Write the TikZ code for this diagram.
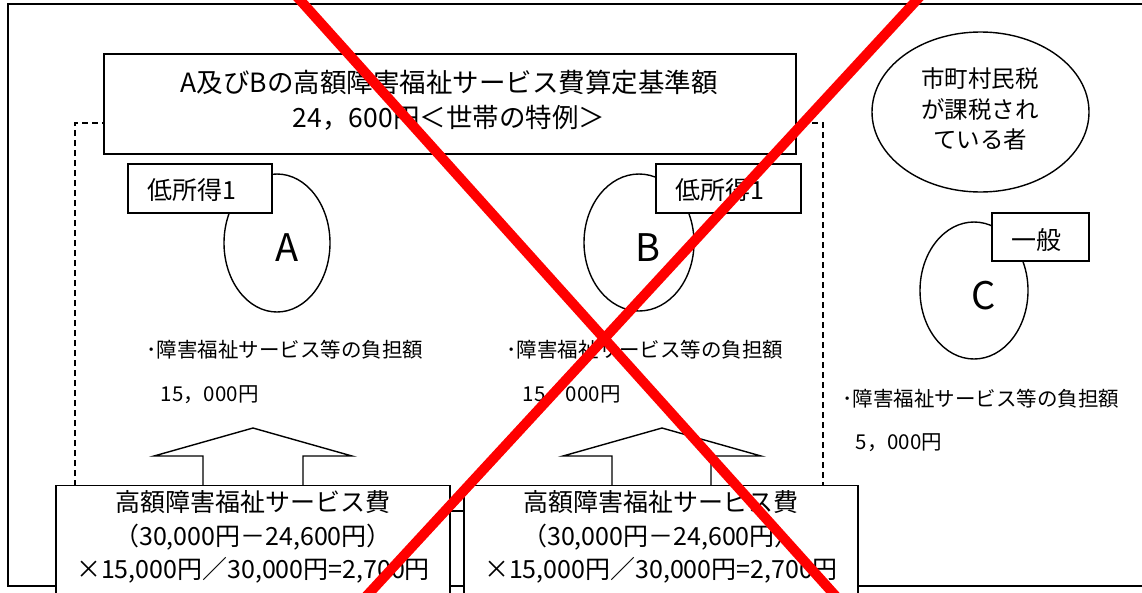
\documentclass[tikz,border=0pt]{standalone}
\usepackage{fontspec}
\setmainfont{Noto Sans CJK JP}
\usetikzlibrary{shapes.geometric}
\begin{document}
\begin{tikzpicture}[x=1pt,y=-1pt,line width=1.4pt,
  box/.style={draw,fill=white,inner sep=0pt},
  ell/.style={draw,ellipse,inner sep=0pt},
  lbl/.style={inner sep=0pt,font=\fontsize{25}{25}\selectfont},
  big/.style={inner sep=0pt,font=\fontsize{38}{38}\selectfont},
  small/.style={inner sep=0pt,anchor=west,font=\fontsize{20.5}{20.5}\selectfont},
  blockarrow/.style={draw,fill=white,line join=miter},
  cross/.style={draw=red,line width=10pt}]
\useasboundingbox (0,0) rectangle (1142,592);
\fill[white] (0,0) rectangle (1142,592);
\begin{scope}
\clip (0,0) rectangle (1142,592);
% outer frame (open on the right)
\draw (1150,4) -- (8,4) -- (8,586) -- (1150,586);
% dashed household frame
\draw[line width=1.2pt,dash pattern=on 6pt off 4pt] (75,486) -- (75,123) -- (823,123) -- (823,486);
% title
\node[box,minimum width=692pt,minimum height=100pt] (title) at (450,104) {};
\node[inner sep=0pt,align=center,font=\fontsize{26.5}{35}\selectfont] (titletext) at (449,100)
  {A及びBの高額障害福祉サービス費算定基準額\\24，600円＜世帯の特例＞};
% tax ellipse
\node[ell,minimum width=217pt,minimum height=160pt] (tax) at (980.5,112) {};
\node[inner sep=0pt,align=center,font=\fontsize{23.5}{30.5}\selectfont] (taxtext) at (980,109.5)
  {市町村民税\\が課税され\\ている者};
% persons
\node[ell,minimum width=106pt,minimum height=138pt] (ea) at (277,243) {};
\node[big] (la) at (287,248) {A};
\node[ell,minimum width=110pt,minimum height=137pt] (eb) at (639,242.5) {};
\node[big] (lb) at (648,248) {B};
\node[ell,minimum width=108pt,minimum height=137pt] (ec) at (974,290.5) {};
\node[big] (lc) at (984,296) {C};
% category labels
\node[box,minimum width=144pt,minimum height=49pt] (catA) at (200,188.5) {};
\node[lbl] (catAt) at (192,190) {低所得1};
\node[box,minimum width=145pt,minimum height=49pt] (catB) at (728.5,188.5) {};
\node[lbl] (catBt) at (720,190) {低所得1};
\node[box,minimum width=97pt,minimum height=48pt] (catC) at (1040.5,237) {};
\node[lbl] (catCt) at (1036.5,240) {一般};
% burden texts
\node[small] (burA) at (146,350) {･障害福祉サービス等の負担額};
\node[small] (amtA) at (160,395) {15，000円};
\node[small] (burB) at (506,350) {･障害福祉サービス等の負担額};
\node[small] (amtB) at (522,395) {15，000円};
\node[small] (burC) at (842,399) {･障害福祉サービス等の負担額};
\node[small] (amtC) at (855,443) {5，000円};
% block arrows
\draw[blockarrow] (203,486) -- (203,456) -- (154,456) -- (253,428) -- (352,456) -- (303,456) -- (303,486);
\draw[blockarrow] (612,486) -- (612,456) -- (563,456) -- (662,428) -- (761,456) -- (711,456) -- (711,486);
% fee boxes
\node[box,anchor=north,minimum width=394pt,minimum height=130pt] (feeA) at (253,485) {};
\node[box,anchor=north,minimum width=394pt,minimum height=130pt] (feeB) at (661,485) {};
\draw (feeA.east |- 0,511) -- (feeB.west |- 0,511);
\node[inner sep=0pt,align=center,font=\fontsize{25}{33.5}\selectfont] (feeAt) at (253,537)
  {高額障害福祉サービス費\\（30,000円－24,600円）\\×15,000円／30,000円=2,700円};
\node[inner sep=0pt,align=center,font=\fontsize{25}{33.5}\selectfont] (feeBt) at (661,537)
  {高額障害福祉サービス費\\（30,000円－24,600円）\\×15,000円／30,000円=2,700円};
% red cross
\draw[cross] (291,-10) -- (841,602);
\draw[cross] (926,-10) -- (361,602);
\end{scope}
\end{tikzpicture}
\end{document}
